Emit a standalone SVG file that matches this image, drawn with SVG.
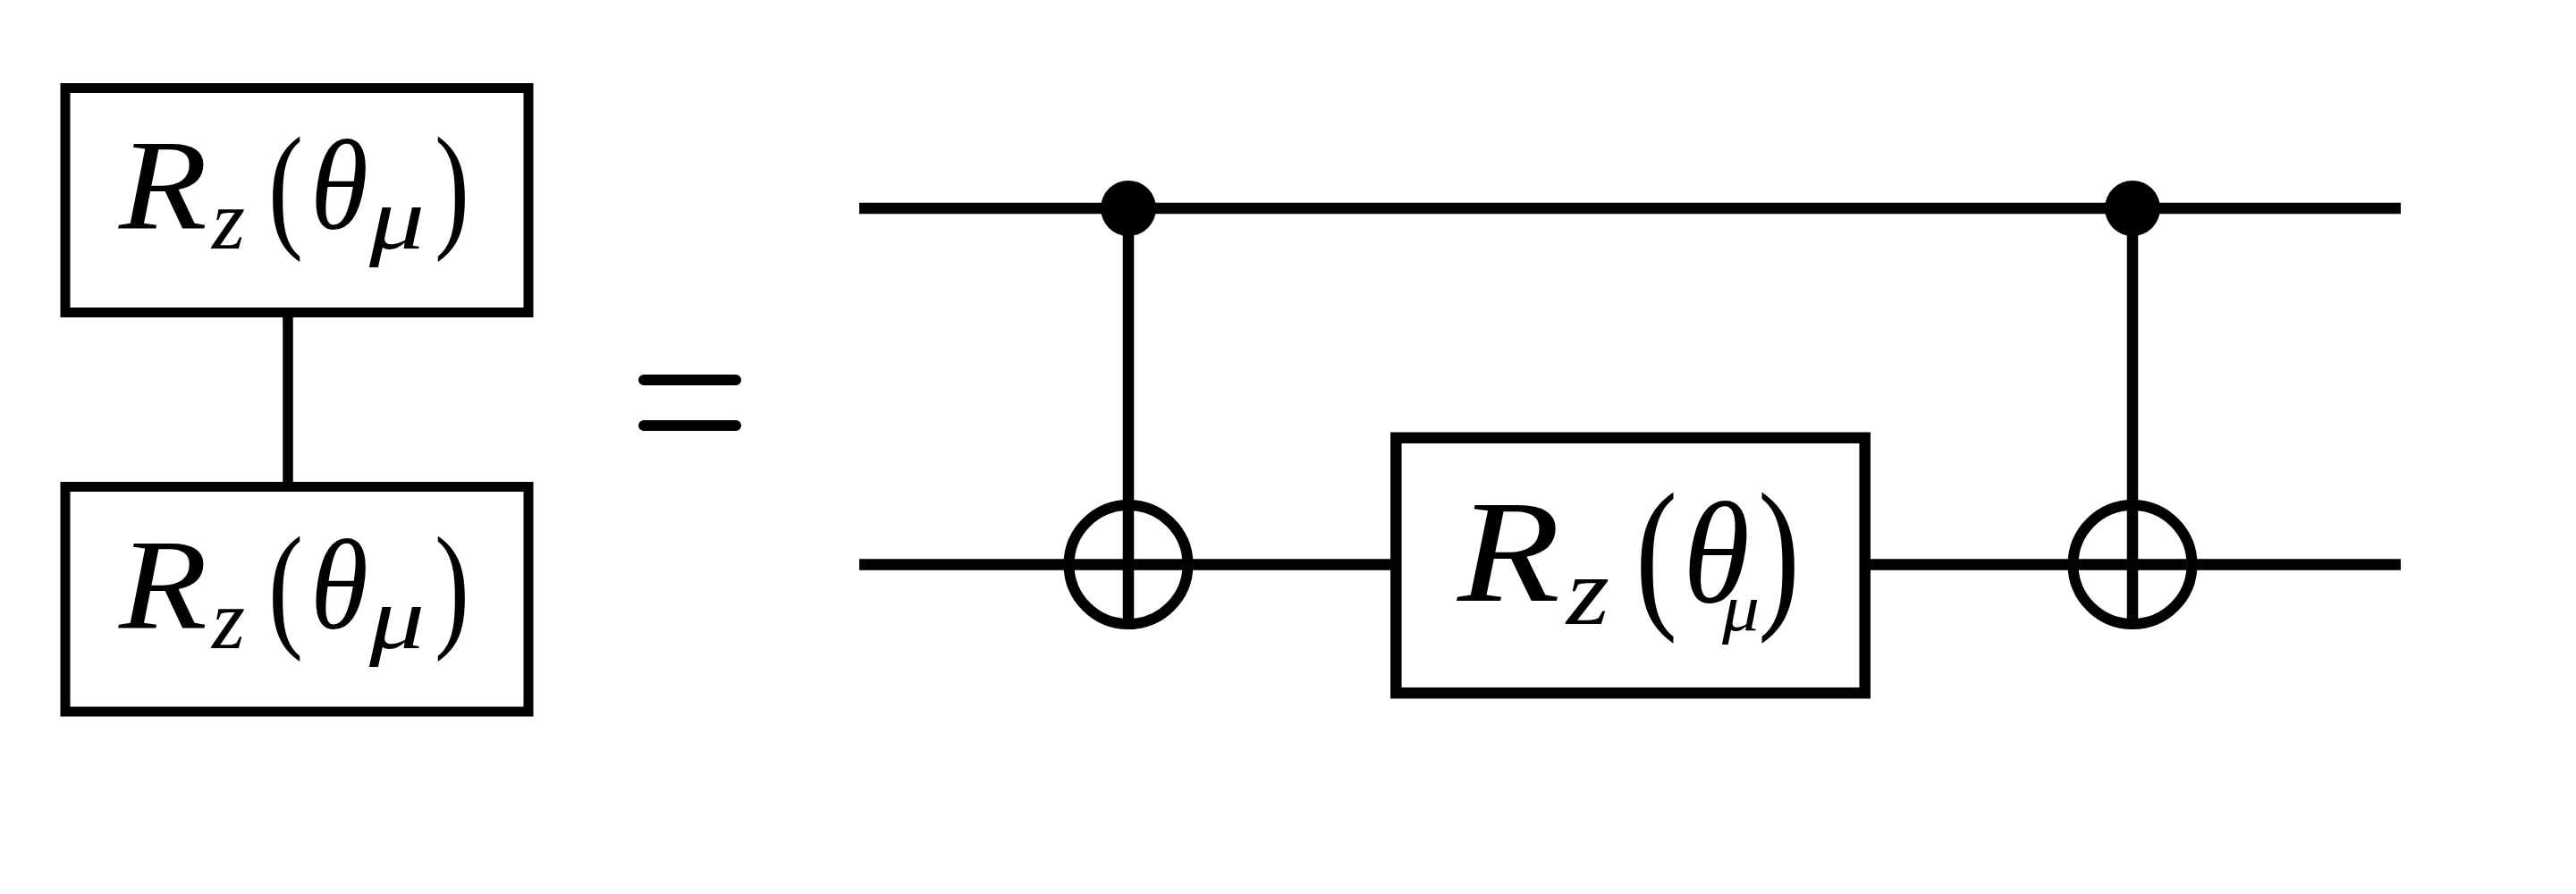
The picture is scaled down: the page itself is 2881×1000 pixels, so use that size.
<svg xmlns="http://www.w3.org/2000/svg" width="2881" height="1000" viewBox="0 0 2881 1000">
<style>
.box{fill:#fff;stroke:#000;stroke-width:11}
.wire{fill:none;stroke:#000;stroke-width:12.5}
.thin{fill:none;stroke:#000;stroke-width:11.5}
.eq{fill:none;stroke:#000;stroke-width:12;stroke-linecap:round}
.ring{fill:none;stroke:#000;stroke-width:12}
.dot{fill:#000}
.m{font-family:"Liberation Serif","Times New Roman",serif;fill:#000}
.i{font-style:italic}
</style>
<rect width="2881" height="1000" fill="#fff"/>
<g id="connectors">
<path class="thin" d="M322 355V540"/>
<path class="wire" d="M961 233H2685"/>
<path class="wire" d="M961 631.500H1558M2091 631.500H2685"/>
<path class="wire" d="M1262 233V698M2385 233V698"/>
</g>
<g id="gate-top">
<rect class="box" x="73" y="98.500" width="518" height="251"/>
<text class="m" xml:space="preserve"><tspan class="i" x="133" y="255" font-size="145" textLength="99" lengthAdjust="spacingAndGlyphs">R</tspan><tspan class="i" x="237" y="278" font-size="95">z</tspan><tspan x="300" y="260" font-size="155" textLength="39" lengthAdjust="spacingAndGlyphs">(</tspan><tspan class="i" x="347" y="256" font-size="143" textLength="65" lengthAdjust="spacingAndGlyphs">θ</tspan><tspan class="i" x="413" y="278" font-size="100" textLength="62" lengthAdjust="spacingAndGlyphs">μ</tspan><tspan x="486" y="260" font-size="155" textLength="39" lengthAdjust="spacingAndGlyphs">)</tspan></text>
</g>
<g id="gate-bottom">
<rect class="box" x="73" y="544.500" width="518" height="251.500"/>
<text class="m" xml:space="preserve"><tspan class="i" x="133" y="702" font-size="145" textLength="99" lengthAdjust="spacingAndGlyphs">R</tspan><tspan class="i" x="237" y="725" font-size="95">z</tspan><tspan x="300" y="707" font-size="155" textLength="39" lengthAdjust="spacingAndGlyphs">(</tspan><tspan class="i" x="347" y="703" font-size="143" textLength="65" lengthAdjust="spacingAndGlyphs">θ</tspan><tspan class="i" x="413" y="725" font-size="100" textLength="62" lengthAdjust="spacingAndGlyphs">μ</tspan><tspan x="486" y="707" font-size="155" textLength="39" lengthAdjust="spacingAndGlyphs">)</tspan></text>
</g>
<g id="equals">
<path class="eq" d="M720 425H823M720 476H823"/>
</g>
<g id="control-1"><circle class="dot" cx="1262" cy="233" r="31"/></g>
<g id="target-1"><circle class="ring" cx="1262" cy="631.500" r="66.500"/></g>
<g id="gate-middle">
<rect class="box" style="stroke-width:12.500" x="1561.300" y="489.700" width="524.400" height="285.500"/>
<text class="m" xml:space="preserve"><tspan class="i" x="1630" y="672" font-size="163" textLength="115" lengthAdjust="spacingAndGlyphs">R</tspan><tspan class="i" x="1752" y="698" font-size="108" textLength="48" lengthAdjust="spacingAndGlyphs">z</tspan><tspan x="1829" y="680" font-size="186" textLength="47" lengthAdjust="spacingAndGlyphs">(</tspan><tspan class="i" x="1882" y="673" font-size="160" textLength="75" lengthAdjust="spacingAndGlyphs">θ</tspan><tspan class="i" x="1926" y="705" font-size="75" textLength="42" lengthAdjust="spacingAndGlyphs">μ</tspan><tspan x="1966" y="680" font-size="186" textLength="47" lengthAdjust="spacingAndGlyphs">)</tspan></text>
</g>
<g id="control-2"><circle class="dot" cx="2385" cy="233" r="31"/></g>
<g id="target-2"><circle class="ring" cx="2385" cy="631.500" r="66.500"/></g>
</svg>
